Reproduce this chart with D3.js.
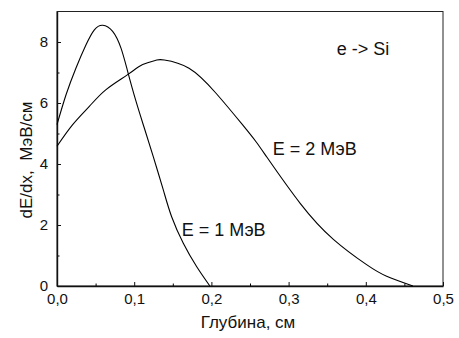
<!DOCTYPE html>
<html>
<head>
<meta charset="utf-8">
<script src="https://cdn.jsdelivr.net/npm/d3@7"></script>
<style>
  body { margin: 0; background: #fff; }
  svg { display: block; font-family: Arial, "Liberation Sans", sans-serif; }
</style>
</head>
<body>
<div id="chart"></div>
<script>
// depth (cm) and dE/dx (MeV/cm)
const depth1 = [0, 0.0117, 0.0246, 0.0376, 0.0484, 0.0592, 0.0721, 0.0829, 0.0915, 0.1023, 0.1131, 0.1247, 0.1377, 0.1485, 0.1636, 0.181, 0.198];
const dedx1 = [5.29, 6.27, 7.15, 7.91, 8.40, 8.55, 8.35, 7.80, 7.04, 6.06, 5.18, 4.24, 3.15, 2.27, 1.40, 0.63, 0];

const depth2 = [0, 0.0203, 0.0419, 0.0635, 0.0915, 0.111, 0.128, 0.139, 0.171, 0.206, 0.2405, 0.2578, 0.272, 0.315, 0.358, 0.401, 0.427, 0.461];
const dedx2 = [4.58, 5.29, 5.89, 6.44, 6.93, 7.26, 7.40, 7.41, 7.14, 6.32, 5.28, 4.73, 4.22, 2.71, 1.53, 0.70, 0.32, 0];

const xTicks = [0, 0.1, 0.2, 0.3, 0.4, 0.5];
const xMinor = [0.05, 0.15, 0.25, 0.35, 0.45];
const yTicks = [0, 2, 4, 6, 8];
const yMinor = [1, 3, 5, 7];

const width = 459;
const height = 338;
const margin = { top: 11.5, right: 16, bottom: 52, left: 57 };

const fmt = d => d3.format('.1f')(d).replace('.', ',');

const svg = d3.select('#chart').append('svg')
  .attr('width', width)
  .attr('height', height);

const x = d3.scaleLinear().domain([0, 0.5]).range([margin.left, width - margin.right]);
const y = d3.scaleLinear().domain([0, 9]).range([height - margin.bottom, margin.top]);

// frame
svg.append('rect')
  .attr('x', x(0)).attr('y', y(9))
  .attr('width', x(0.5) - x(0)).attr('height', y(0) - y(9))
  .attr('fill', 'none').attr('stroke', '#222').attr('stroke-width', 1);

// minor ticks
svg.append('g')
  .attr('transform', `translate(0,${y(0)})`)
  .call(d3.axisBottom(x).tickValues(xMinor).tickSize(-2.5).tickFormat(''))
  .call(g => g.select('.domain').remove());

svg.append('g')
  .attr('transform', `translate(${x(0)},0)`)
  .call(d3.axisLeft(y).tickValues(yMinor).tickSize(-2.5).tickFormat(''))
  .call(g => g.select('.domain').remove());

// major axes
const xAxis = svg.append('g')
  .attr('transform', `translate(0,${y(0)})`)
  .call(d3.axisBottom(x).tickValues(xTicks).tickSize(-4).tickSizeOuter(0).tickPadding(7).tickFormat(fmt));

const yAxis = svg.append('g')
  .attr('transform', `translate(${x(0)},0)`)
  .call(d3.axisLeft(y).tickValues(yTicks).tickSize(-4).tickSizeOuter(0).tickPadding(9).tickFormat(d3.format('d')));

[xAxis, yAxis].forEach(g => {
  g.select('.domain').attr('stroke', '#111').attr('stroke-width', 1.4);
  g.selectAll('.tick line').attr('stroke', '#111');
  g.selectAll('.tick text').attr('font-size', 15).attr('fill', '#111').attr('font-family', 'Arial, "Liberation Sans", sans-serif');
});

// curves
const line = d3.line()
  .x(d => x(d[0]))
  .y(d => y(d[1]))
  .curve(d3.curveNatural);

[[depth1, dedx1], [depth2, dedx2]].forEach(([xs, ys]) => {
  svg.append('path')
    .datum(xs.map((v, i) => [v, ys[i]]))
    .attr('fill', 'none')
    .attr('stroke', '#000')
    .attr('stroke-width', 1.1)
    .attr('d', line);
});

// labels
const labels = [
  { text: 'E = 1 МэВ', dx: 0.1615, dy: 1.64 },
  { text: 'E = 2 МэВ', dx: 0.2795, dy: 4.29 },
  { text: 'e -> Si', dx: 0.3625, dy: 7.57 },
];

svg.selectAll('text.label')
  .data(labels)
  .join('text')
  .attr('class', 'label')
  .attr('x', d => x(d.dx))
  .attr('y', d => y(d.dy))
  .attr('font-size', 18)
  .attr('fill', '#111')
  .text(d => d.text);

// axis titles
svg.append('text')
  .attr('x', 248)
  .attr('y', 328)
  .attr('text-anchor', 'middle')
  .attr('font-size', 17)
  .attr('fill', '#111')
  .text('Глубина, см');

svg.append('text')
  .attr('transform', 'translate(32,160) rotate(-90)')
  .attr('text-anchor', 'middle')
  .attr('font-size', 17)
  .attr('fill', '#111')
  .attr('xml:space', 'preserve')
  .style('white-space', 'pre')
  .text('dE/dx,  МэВ/см');
</script>
</body>
</html>
